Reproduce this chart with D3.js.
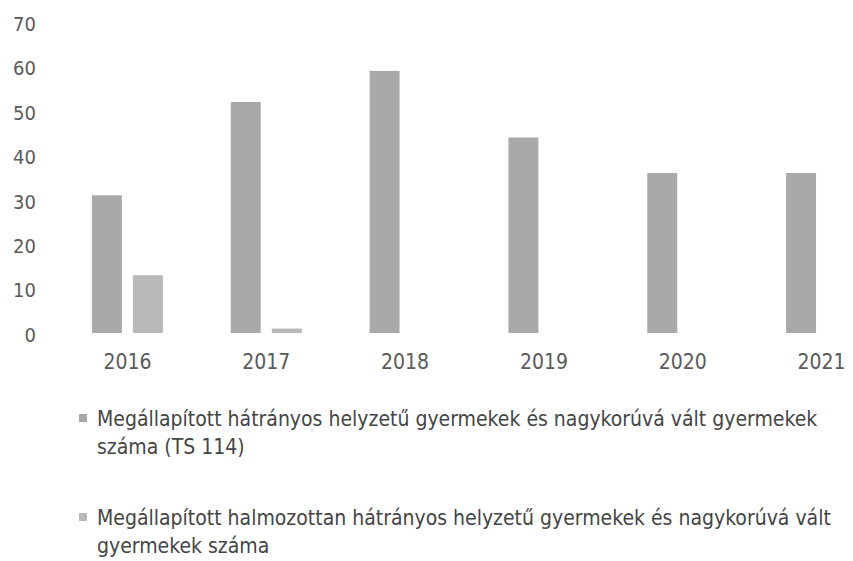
<!DOCTYPE html>
<html>
<head>
<meta charset="utf-8">
<script src="https://cdn.jsdelivr.net/npm/d3@7"></script>
<style>
  html, body { margin: 0; padding: 0; background: #fff; }
  svg { display: block; }
  .tick-label { font-family: "Liberation Sans Narrow", "DejaVu Sans Condensed", sans-serif; fill: #5a5a5a; }
  .legend-text { font-family: "Liberation Sans Narrow", "DejaVu Sans Condensed", sans-serif; fill: #454545; }
</style>
</head>
<body>
<svg id="chart" width="853" height="561"></svg>
<script>
// Years on the category axis
const years = ["2016", "2017", "2018", "2019", "2020", "2021"];
// Children assessed as disadvantaged, incl. those who came of age (TS 114)
const disadvantaged = [31, 52, 59, 44, 36, 36];
// Children assessed as multiply disadvantaged, incl. those who came of age
const multiplyDisadvantaged = [13, 1, 0, 0, 0, 0];
// Value axis ticks
const yTicks = [0, 10, 20, 30, 40, 50, 60, 70];
// Legend entries, each split into its printed lines
const legendLines = [
  ["Megállapított hátrányos helyzetű gyermekek és nagykorúvá vált gyermekek", "száma (TS 114)"],
  ["Megállapított halmozottan hátrányos helyzetű gyermekek és nagykorúvá vált", "gyermekek száma"]
];
const seriesKeys = ["s1", "s2"];
const seriesColors = { s1: "#a9a9a9", s2: "#b9b9b9" };

const svg = d3.select("#chart");

const y = d3.scaleLinear().domain([0, 70]).range([333, 22]);
const x0 = d3.scaleBand().domain(years).range([58, 891]).paddingInner(0).paddingOuter(0);
const groupWidth = 71;
const x1 = d3.scaleBand().domain(seriesKeys).range([0, groupWidth]).paddingInner(0.27).paddingOuter(0);

const rows = years.map((yr, i) => ({ year: yr, s1: disadvantaged[i], s2: multiplyDisadvantaged[i] }));

// Bars
const groups = svg.append("g").selectAll("g").data(rows).join("g")
  .attr("transform", d => `translate(${x0(d.year) + (x0.bandwidth() - groupWidth) / 2},0)`);

groups.selectAll("rect")
  .data(d => seriesKeys.map(k => ({ key: k, value: d[k] })).filter(e => e.value > 0))
  .join("rect")
  .attr("x", e => x1(e.key))
  .attr("width", x1.bandwidth())
  .attr("y", e => y(e.value))
  .attr("height", e => y(0) - y(e.value))
  .attr("fill", e => seriesColors[e.key]);

// Value axis (labels only)
const yAxis = d3.axisLeft(y).tickValues(yTicks).tickSize(0).tickPadding(0);
const yg = svg.append("g").attr("transform", "translate(36,2)").call(yAxis);
yg.select(".domain").remove();
yg.selectAll("text").attr("class", "tick-label").attr("fill", null)
  .style("font-size", "20px");

// Category axis (labels only)
const xAxis = d3.axisBottom(x0).tickSize(0).tickPadding(0);
const xg = svg.append("g").attr("transform", "translate(0,354)").call(xAxis);
xg.select(".domain").remove();
xg.selectAll("text").attr("class", "tick-label").attr("fill", null)
  .style("font-size", "21px").attr("dy", "0.71em");

// Legend
const legendTop = [426, 525];
const lineGap = 28;
legendLines.forEach((lines, i) => {
  const g = svg.append("g");
  g.append("rect")
    .attr("x", 79).attr("y", legendTop[i] - 12)
    .attr("width", 8).attr("height", 8)
    .attr("fill", seriesColors[seriesKeys[i]]);
  lines.forEach((t, j) => {
    g.append("text")
      .attr("class", "legend-text")
      .attr("x", 97)
      .attr("y", legendTop[i] + j * lineGap)
      .style("font-size", "21px")
      .text(t);
  });
});
</script>
</body>
</html>
